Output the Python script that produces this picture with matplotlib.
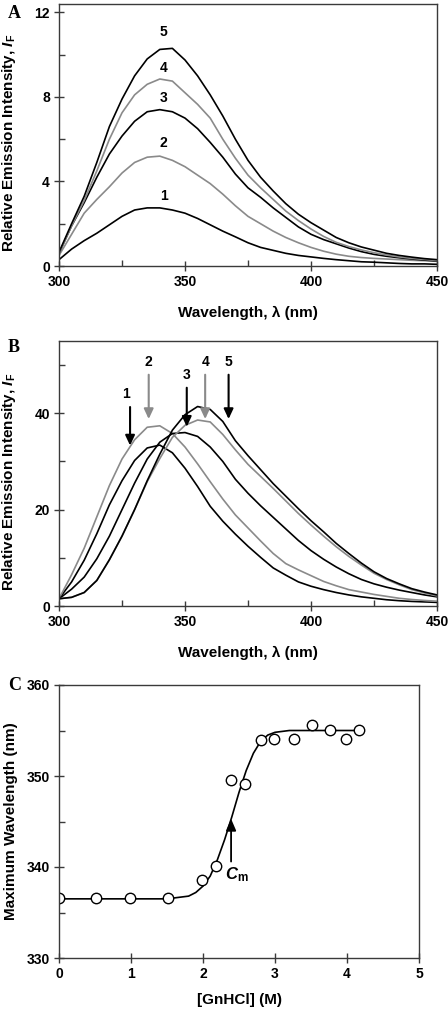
import numpy as np
import matplotlib
matplotlib.use('Agg')
import matplotlib.pyplot as plt

plt.rcParams['font.family'] = 'Liberation Sans'
plt.rcParams['font.weight'] = 'bold'
plt.rcParams['mathtext.fontset'] = 'custom'
plt.rcParams['mathtext.rm'] = 'Liberation Sans:bold'
plt.rcParams['mathtext.it'] = 'Liberation Sans:bold:italic'

# emission spectra, read every 5 nm
wavelength = np.arange(300, 451, 5)

a1 = [0.3, 0.8, 1.2, 1.55, 1.95, 2.35, 2.65, 2.75, 2.75, 2.65, 2.5, 2.25, 1.95, 1.65, 1.38,
      1.1, 0.88, 0.74, 0.6, 0.5, 0.43, 0.36, 0.3, 0.25, 0.2, 0.18, 0.15, 0.12, 0.1, 0.1, 0.08]
a2 = [0.5, 1.5, 2.5, 3.15, 3.75, 4.4, 4.9, 5.15, 5.2, 5.0, 4.7, 4.3, 3.9, 3.4, 2.85,
      2.35, 2.0, 1.65, 1.35, 1.1, 0.88, 0.7, 0.56, 0.46, 0.4, 0.36, 0.33, 0.3, 0.27, 0.25, 0.22]
a3 = [0.6, 1.9, 3.0, 4.2, 5.3, 6.15, 6.85, 7.3, 7.4, 7.3, 7.0, 6.5, 5.85, 5.15, 4.35,
      3.7, 3.25, 2.75, 2.3, 1.85, 1.5, 1.25, 1.05, 0.85, 0.68, 0.55, 0.46, 0.39, 0.33, 0.28, 0.24]
a4 = [0.6, 1.9, 3.1, 4.5, 6.0, 7.25, 8.1, 8.6, 8.85, 8.75, 8.2, 7.65, 7.0, 6.0, 5.1,
      4.3, 3.7, 3.15, 2.6, 2.15, 1.75, 1.4, 1.12, 0.92, 0.76, 0.63, 0.52, 0.43, 0.36, 0.31, 0.26]
a5 = [0.65, 2.0, 3.3, 4.9, 6.6, 7.9, 9.0, 9.8, 10.25, 10.3, 9.75, 9.0, 8.1, 7.1, 6.0,
      5.0, 4.2, 3.55, 2.95, 2.45, 2.05, 1.7, 1.35, 1.1, 0.9, 0.75, 0.6, 0.5, 0.42, 0.35, 0.3]

b1 = [1.5, 5, 9.5, 15, 21, 26, 30.2, 32.8, 33.4, 31.8, 28.6, 24.8, 20.7, 17.6, 14.9,
      12.4, 10.1, 7.9, 6.4, 5.0, 4.1, 3.4, 2.8, 2.3, 1.9, 1.6, 1.3, 1.1, 0.95, 0.85, 0.75]
b2 = [1.5, 6.5, 12, 18.5, 25, 30.5, 34.5, 37.1, 37.4, 35.8, 33, 29.5, 25.8, 22.2, 18.9,
      16.2, 13.5, 10.9, 8.8, 7.5, 6.3, 5.1, 4.2, 3.4, 2.9, 2.4, 2.0, 1.6, 1.35, 1.15, 1.0]
b3 = [1.5, 3.5, 6, 9.8, 14.5, 20, 25.5, 30.5, 34, 35.8, 36, 35.2, 33, 30, 26.3,
      23.4, 20.8, 18.4, 16, 13.6, 11.5, 9.7, 8.1, 6.7, 5.5, 4.6, 3.9, 3.3, 2.8, 2.3, 1.9]
b4 = [1.5, 1.8, 2.8, 5.3, 9.6, 14.5, 20, 25.8, 30.6, 35, 37.5, 38.6, 38.2, 35.6, 32.4,
      29.4, 26.9, 24.4, 21.8, 19.2, 16.8, 14.5, 12.3, 10.3, 8.5, 6.8, 5.5, 4.4, 3.4, 2.7, 2.1]
b5 = [1.5, 1.8, 2.8, 5.3, 9.6, 14.5, 20, 26, 31.5, 36.5, 39.7, 41.4, 40.8, 38.3, 34.3,
      31.2, 28.3, 25.4, 22.8, 20.2, 17.7, 15.4, 13, 10.9, 8.9, 7.1, 5.7, 4.6, 3.6, 2.9, 2.3]

# arrow positions in panel B (wavelength, tail, tip)
arrow_x = [328.2, 335.6, 350.7, 358.0, 367.3]
arrow_tail = [41.3, 48.0, 45.3, 48.0, 48.0]
arrow_tip = [33.3, 38.8, 37.2, 38.8, 38.8]

# panel C: denaturation
gnhcl = [0, 0.51, 0.985, 1.52, 1.99, 2.18, 2.39, 2.59, 2.80, 2.99, 3.27, 3.52, 3.76, 3.99, 4.17]
lam_max = [336.6, 336.6, 336.6, 336.6, 338.6, 340.1, 349.6, 349.1, 354.0, 354.1, 354.1,
           355.6, 355.1, 354.1, 355.1]
fit_x = [0, 1.5, 1.8, 1.9, 2.0, 2.1, 2.2, 2.3, 2.4, 2.5, 2.6, 2.7, 2.8, 2.9, 3.0, 3.2, 4.2]
fit_y = [336.5, 336.5, 336.8, 337.2, 337.9, 339.0, 340.8, 343.0, 345.5, 348.2, 350.6,
         352.5, 353.8, 354.5, 354.8, 355.0, 355.0]
cm = 2.39

BLACK = '#000000'
GREY = '#8a8a8a'
SPINE = '#3a3a3a'

fig = plt.figure(figsize=(4.48, 10.09), dpi=100)
W, H = 448, 1009


def make_ax(l, r, t, b):
    ax = fig.add_axes([l / W, 1 - b / H, (r - l) / W, (b - t) / H])
    for s in ax.spines.values():
        s.set_color(SPINE)
        s.set_linewidth(1.0)
    ax.tick_params(which='major', direction='inout', length=7, width=1,
                   color=SPINE, labelsize=10, pad=3)
    ax.tick_params(which='minor', direction='in', length=4, width=1, color=SPINE)
    ax.tick_params(top=False, right=False, which='both')
    for lab in ax.get_xticklabels() + ax.get_yticklabels():
        lab.set_fontweight('bold')
    return ax


ylab = r'Relative Emission Intensity, $\mathit{I}_{\mathrm{F}}$'
xlab = 'Wavelength, λ (nm)'

# panel A
axA = make_ax(59, 437, 4, 266)
for y, c in zip([a1, a2, a3, a4, a5], [BLACK, GREY, BLACK, GREY, BLACK]):
    axA.plot(wavelength, y, color=c, lw=1.2)
axA.set_xlim(300, 450)
axA.set_ylim(0, 12.4)
axA.set_xticks([300, 350, 400, 450])
axA.set_xticks([325, 375, 425], minor=True)
axA.set_yticks([0, 4, 8, 12])
axA.set_yticks([2, 6, 10], minor=True)
for txt, yy in zip(['1', '2', '3', '4', '5'], [3.3, 5.8, 7.95, 9.35, 11.06]):
    axA.text(341.5, yy, txt, ha='center', va='center', fontsize=10, fontweight='bold')
axA.set_ylabel(ylab, fontsize=11, fontweight='bold')
axA.set_xlabel(xlab, fontsize=11, fontweight='bold')
axA.yaxis.set_label_coords(-0.108, 0.47)
axA.xaxis.set_label_coords(0.5, -0.152)
fig.text(8 / W, 1 - 13 / H, 'A', family='Liberation Serif', fontsize=13,
         fontweight='bold', va='center', ha='left')

# panel B
axB = make_ax(59, 437, 341, 606)
for y, c in zip([b1, b2, b3, b4, b5], [BLACK, GREY, BLACK, GREY, BLACK]):
    axB.plot(wavelength, y, color=c, lw=1.2)
axB.set_xlim(300, 450)
axB.set_ylim(0, 55)
axB.set_xticks([300, 350, 400, 450])
axB.set_xticks([325, 375, 425], minor=True)
axB.set_yticks([0, 20, 40])
axB.set_yticks([10, 30, 50], minor=True)
for i, (xa, t0, t1) in enumerate(zip(arrow_x, arrow_tail, arrow_tip)):
    c = GREY if i in (1, 3) else BLACK
    axB.annotate('', xy=(xa, t1), xytext=(xa, t0),
                 arrowprops=dict(arrowstyle='-|>,head_width=0.28,head_length=0.6',
                                 color=c, lw=1.5, shrinkA=0, shrinkB=0))
    axB.text(xa - (1.5 if i == 0 else 0), t0 + 2.6, str(i + 1), ha='center', va='center',
             fontsize=10, fontweight='bold')
axB.set_ylabel(ylab, fontsize=11, fontweight='bold')
axB.set_xlabel(xlab, fontsize=11, fontweight='bold')
axB.yaxis.set_label_coords(-0.108, 0.47)
axB.xaxis.set_label_coords(0.5, -0.152)
fig.text(8 / W, 1 - 347 / H, 'B', family='Liberation Serif', fontsize=13,
         fontweight='bold', va='center', ha='left')

# panel C
axC = make_ax(59, 419, 685, 958)
axC.plot(fit_x, fit_y, color=BLACK, lw=1.2)
axC.plot(gnhcl, lam_max, 'o', mfc='white', mec=BLACK, ms=7.5, mew=1.0)
axC.set_xlim(0, 5)
axC.set_ylim(330, 360)
axC.set_xticks([0, 1, 2, 3, 4, 5])
axC.set_yticks([330, 340, 350, 360])
axC.set_yticks([335, 345, 355], minor=True)
axC.annotate('', xy=(cm, 345.3), xytext=(cm, 340.6),
             arrowprops=dict(arrowstyle='-|>,head_width=0.3,head_length=0.7',
                             color=BLACK, lw=1.3, shrinkA=0, shrinkB=0))
axC.text(cm + 0.08, 339.2, r'$\mathit{C}_{\mathrm{m}}$', ha='center', va='center',
         fontsize=12)
axC.set_ylabel('Maximum Wavelength (nm)', fontsize=11, fontweight='bold')
axC.set_xlabel('[GnHCl] (M)', fontsize=11, fontweight='bold')
axC.yaxis.set_label_coords(-0.115, 0.5)
axC.xaxis.set_label_coords(0.5, -0.13)
fig.text(8 / W, 1 - 685 / H, 'C', family='Liberation Serif', fontsize=13,
         fontweight='bold', va='center', ha='left')

fig.savefig('out.png', dpi=100)
